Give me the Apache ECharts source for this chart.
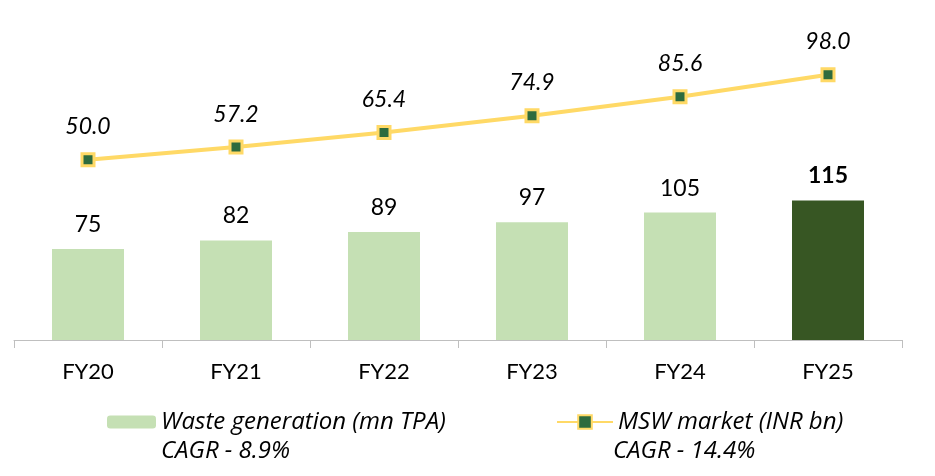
<!DOCTYPE html>
<html><head><meta charset="utf-8">
<script src="https://cdn.jsdelivr.net/npm/echarts@6/dist/echarts.min.js"></script>
<style>html,body{margin:0;padding:0;background:#fff}#c{width:935px;height:476px}</style>
</head><body><div id="c"></div>
<script>
const categories = ['FY20','FY21','FY22','FY23','FY24','FY25'];
const wasteGeneration = [75, 82, 89, 97, 105, 115];
const mswMarket = [50.0, 57.2, 65.4, 74.9, 85.6, 98.0];
const wasteName = 'Waste generation (mn TPA)';
const mswName = 'MSW market (INR bn)';
const wasteCagr = 'CAGR - 8.9%';
const mswCagr = 'CAGR - 14.4%';

const FONT = 'Lato, "Open Sans", sans-serif';
const LFONT = '"Open Sans", sans-serif';
const chart = echarts.init(document.getElementById('c'));
chart.setOption({
  animation: false,
  grid: {left: 14, right: 33, top: 10, bottom: 136, containLabel: false},
  xAxis: {
    type: 'category', data: categories,
    axisLine: {lineStyle: {color: '#BFBFBF', width: 1}},
    axisTick: {show: true, length: 8, lineStyle: {color: '#BFBFBF'}},
    axisLabel: {color: '#000', fontSize: 22, fontFamily: FONT, margin: 21}
  },
  yAxis: [
    {type: 'value', min: 0, max: 272, show: false, splitLine: {show: false}},
    {type: 'value', min: -51.7, max: 134.6, show: false, splitLine: {show: false}}
  ],
  legend: [
    {
      data: [wasteName], left: 102, top: 405, itemWidth: 49, itemHeight: 13,
      textStyle: {fontSize: 24, fontStyle: 'italic', fontFamily: LFONT, color: '#000'},
      itemGap: 0, selectedMode: false
    },
    {
      data: [mswName], left: 551, top: 405, itemWidth: 56, itemHeight: 17,
      textStyle: {fontSize: 24, fontStyle: 'italic', fontFamily: LFONT, color: '#000'},
      itemGap: 0, selectedMode: false
    }
  ],
  graphic: [
    {type: 'text', left: 161, top: 439, style: {text: wasteCagr, font: 'italic 24px ' + LFONT, fill: '#000'}},
    {type: 'text', left: 613, top: 439, style: {text: mswCagr, font: 'italic 24px ' + LFONT, fill: '#000'}}
  ],
  series: [
    {
      name: wasteName, type: 'bar', barWidth: 72, yAxisIndex: 0,
      data: wasteGeneration.map((v, i) => i === wasteGeneration.length - 1
        ? {value: v, itemStyle: {color: '#375623'}, label: {fontWeight: 'bold'}}
        : v),
      itemStyle: {color: '#C5E0B4'},
      label: {show: true, position: 'top', distance: 13, color: '#000', fontSize: 23, fontFamily: FONT}
    },
    {
      name: mswName, type: 'line', yAxisIndex: 1, data: mswMarket,
      lineStyle: {color: '#FFD966', width: 4},
      symbol: 'rect', symbolSize: 12,
      itemStyle: {color: '#2E6B3E', borderColor: '#FFD966', borderWidth: 3},
      label: {show: true, position: 'top', distance: 14, color: '#000', fontSize: 23, fontStyle: 'italic', fontFamily: FONT,
        formatter: p => p.value.toFixed(1)}
    }
  ]
});
</script></body></html>
